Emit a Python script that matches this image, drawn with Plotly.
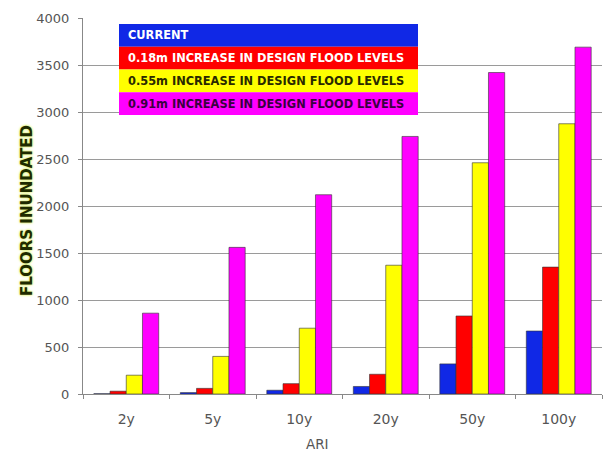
import plotly.graph_objects as go

# ARI categories and number of floors inundated for each flood-level scenario
categories = ["2y", "5y", "10y", "20y", "50y", "100y"]
series_names = [
    "CURRENT",
    "0.18m INCREASE IN DESIGN FLOOD LEVELS",
    "0.55m INCREASE IN DESIGN FLOOD LEVELS",
    "0.91m INCREASE IN DESIGN FLOOD LEVELS",
]
current = [3, 15, 40, 80, 320, 670]
rise_018 = [30, 60, 110, 210, 830, 1350]
rise_055 = [200, 400, 700, 1370, 2460, 2875]
rise_091 = [860, 1560, 2120, 2740, 3420, 3690]
series_values = [current, rise_018, rise_055, rise_091]

bar_colors = ["#1028e6", "#ff0000", "#ffff00", "#ff00ff"]
legend_text_colors = ["#ffffff", "#ffffff", "#2a2a00", "#3a0040"]

W, H = 605, 452
M_L, M_R, M_T, M_B = 83, 3, 18, 58
PW = W - M_L - M_R
PH = H - M_T - M_B


def px_x(px):
    return (px - M_L) / PW


def px_y(py):
    return (H - M_B - py) / PH


fig = go.Figure()
for name, vals, col in zip(series_names, series_values, bar_colors):
    fig.add_trace(go.Bar(
        x=categories, y=vals, name=name,
        marker=dict(color=col, line=dict(color="#333333", width=0.6)),
        showlegend=False,
    ))

# Stacked colour-band legend drawn inside the plot area
leg_x0, leg_x1 = px_x(119), px_x(418)
leg_top, row_h = 24, 22.75
shapes = []
annotations = []
for i, (name, col, tcol) in enumerate(zip(series_names, bar_colors, legend_text_colors)):
    top = leg_top + i * row_h
    shapes.append(dict(
        type="rect", xref="paper", yref="paper",
        x0=leg_x0, x1=leg_x1, y0=px_y(top + row_h), y1=px_y(top),
        fillcolor=col, line=dict(width=0), layer="above",
    ))
    annotations.append(dict(
        xref="paper", yref="paper", x=px_x(126), y=px_y(top + row_h / 2),
        xanchor="left", yanchor="middle", showarrow=False,
        text=name, font=dict(family="DejaVu Sans", size=11.4, color=tcol, weight="bold"),
    ))

# Axis titles
annotations.append(dict(
    xref="paper", yref="paper", x=px_x(27), y=px_y(211),
    xanchor="center", yanchor="middle", showarrow=False, textangle=-90,
    text="FLOORS INUNDATED",
    font=dict(family="DejaVu Sans", size=15, color="#1e2a00", weight="bold",
              shadow="0px 0px 2px #d8f060, 0px 0px 3px #e0f070"),
))
annotations.append(dict(
    xref="paper", yref="paper", x=px_x(317), y=px_y(444),
    xanchor="center", yanchor="middle", showarrow=False,
    text="ARI", font=dict(family="DejaVu Sans", size=13.5, color="#555555"),
))

fig.update_layout(
    width=W, height=H,
    margin=dict(l=M_L, r=M_R, t=M_T, b=M_B),
    paper_bgcolor="white", plot_bgcolor="white",
    barmode="group", bargap=0.25, bargroupgap=0,
    shapes=shapes, annotations=annotations,
    xaxis=dict(
        showline=True, linecolor="#888888", linewidth=1,
        ticks="outside", tickson="boundaries", ticklen=4, tickcolor="#888888",
        tickfont=dict(family="DejaVu Sans", size=14, color="#555555"),
        ticklabelstandoff=12, showgrid=False,
    ),
    yaxis=dict(
        range=[0, 4000], dtick=500,
        showline=True, linecolor="#888888", linewidth=1,
        ticks="outside", ticklen=4, tickcolor="#888888",
        tickfont=dict(family="DejaVu Sans", size=13, color="#555555"),
        ticklabelstandoff=6,
        showgrid=True, gridcolor="#9a9a9a", gridwidth=1.2, zeroline=False,
    ),
)

fig.write_html("out.html")
